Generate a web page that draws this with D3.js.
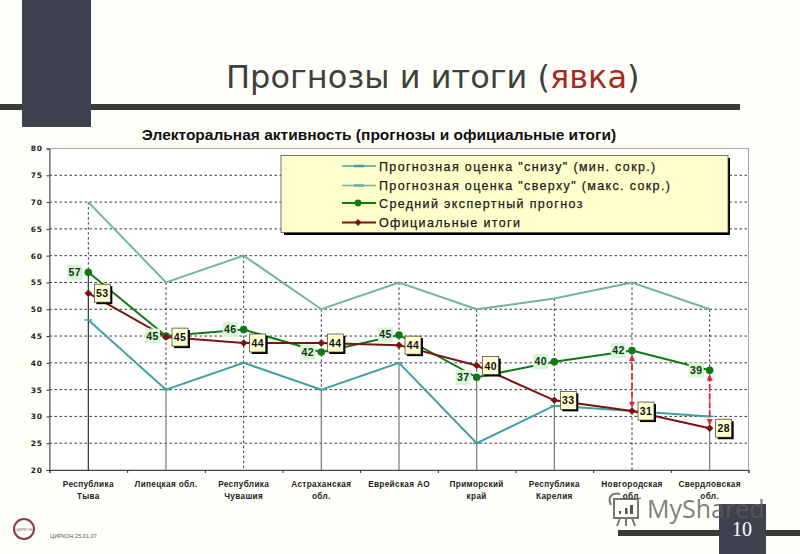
<!DOCTYPE html>
<html><head><meta charset="utf-8">
<script src="https://cdn.jsdelivr.net/npm/d3@7"></script>
<style>html,body{margin:0;padding:0;background:#fffff9;overflow:hidden}svg{display:block}</style>
</head><body><svg id="c" width="800" height="554"></svg>
<script>
const categories=[["Республика","Тыва"],["Липецкая обл."],["Республика","Чувашия"],["Астраханская","обл."],["Еврейская АО"],["Приморский","край"],["Республика","Карелия"],["Новгородская","обл."],["Свердловская","обл."]];
const lowValues=[48,35,40,35,40,25,32,31,30];
const highValues=[70,55,60,50,55,50,52,55,50];
const midValues=[56.9,45,46.2,42,45.2,37.3,40.2,42.3,38.6];
const officialValues=[53,44.8,43.7,43.7,43.3,39.5,33,31,27.8];
const midLabels=["57","45","46","42","45","37","40","42","39"];
const officialLabels=["53","45","44","44","44","40","33","31","28"];
const dropSolidFrom=[56.9,35,20,35,40,37.3,32,20,27.8];
const yTicks=d3.range(20,81,5);
const legendNames=['Прогнозная оценка "снизу" (мин. сокр.)','Прогнозная оценка "сверху" (макс. сокр.)','Средний экспертный прогноз','Официальные итоги'];
const arrowCategories=[7,8];

const svg=d3.select("#c");
const inkDark="#3c3c36";
svg.append("rect").attr("x",0).attr("y",104).attr("width",740).attr("height",6).attr("fill",inkDark);
svg.append("rect").attr("x",22).attr("y",0).attr("width",69).attr("height",127).attr("fill","#3d424e");
svg.append("rect").attr("x",618).attr("y",530).attr("width",182).attr("height",6).attr("fill",inkDark);

const t=svg.append("text").attr("x",226).attr("y",88).attr("font-family","DejaVu Sans").attr("font-size",32).attr("fill","#3f3f3f");
t.append("tspan").text("Прогнозы и итоги (");
t.append("tspan").attr("fill","#a92a1c").text("явка");
t.append("tspan").text(")");
svg.append("text").attr("x",379).attr("y",140).attr("text-anchor","middle").attr("font-family","Liberation Sans").attr("font-weight","bold").attr("font-size",15.5).attr("fill","#111").text("Электоральная активность (прогнозы и официальные итоги)");

const x=d3.scaleBand().domain(d3.range(categories.length)).range([49.5,748.5]);
const y=d3.scaleLinear().domain([20,80]).range([470,148.5]);
const cx=i=>x(i)+x.bandwidth()/2;

svg.append("rect").attr("x",49.5).attr("y",148.5).attr("width",699).attr("height",321.5).attr("fill","#ffffff").attr("stroke","#a8a8a8");
svg.append("g").selectAll("line").data(yTicks.slice(1,-1)).join("line")
 .attr("x1",49.5).attr("x2",748.5).attr("y1",d=>y(d)).attr("y2",d=>y(d))
 .attr("stroke","#222").attr("stroke-width",.9).attr("stroke-dasharray","2.5 2.5");
const drop=svg.append("g");
categories.forEach((c,i)=>{
  drop.append("line").attr("x1",cx(i)).attr("x2",cx(i)).attr("y1",y(highValues[i])).attr("y2",y(dropSolidFrom[i]))
    .attr("stroke","#222").attr("stroke-width",.9).attr("stroke-dasharray","2.5 2.5");
  drop.append("line").attr("x1",cx(i)).attr("x2",cx(i)).attr("y1",y(dropSolidFrom[i])).attr("y2",y(20))
    .attr("stroke",i===0?"#333":"#777").attr("stroke-width",1.2);
});
const yAxis=d3.axisLeft(y).tickValues(yTicks).tickSize(3).tickPadding(4);
const yg=svg.append("g").attr("transform","translate(49.5,0)").call(yAxis);
yg.select(".domain").attr("stroke","#555");
yg.selectAll("line").attr("stroke","#333");
yg.selectAll("text").attr("font-family","DejaVu Sans").attr("font-weight","bold").attr("font-size",7.5).attr("letter-spacing",.6).attr("fill","#222");
const xAxis=d3.axisBottom(d3.scaleLinear().domain([0,9]).range([49.5,748.5])).ticks(9).tickSize(3).tickFormat("");
const xg=svg.append("g").attr("transform","translate(0,470)").call(xAxis);
xg.select(".domain").attr("stroke","#444");
xg.selectAll("line").attr("stroke","#333");
const catG=svg.append("g").attr("font-family","Liberation Sans").attr("font-weight","bold").attr("font-size",8.2).attr("letter-spacing",.35).attr("fill","#222").attr("text-anchor","middle");
categories.forEach((c,i)=>c.forEach((s,j)=>catG.append("text").attr("x",cx(i)).attr("y",487+j*12).text(s)));

const line=d3.line().x((d,i)=>cx(i)).y(d=>y(d));
const colors={low:"#43a0a0",high:"#72b3a4",mid:"#0f7a14",off:"#7d1212"};
svg.append("path").datum(highValues).attr("d",line).attr("fill","none").attr("stroke",colors.high).attr("stroke-width",2);
svg.append("path").datum(lowValues).attr("d",line).attr("fill","none").attr("stroke",colors.low).attr("stroke-width",2);
svg.append("g").selectAll("line").data(lowValues).join("line")
 .attr("x1",(d,i)=>cx(i)-4).attr("x2",(d,i)=>cx(i)+4).attr("y1",d=>y(d)).attr("y2",d=>y(d)).attr("stroke",colors.low).attr("stroke-width",1.4);
svg.append("path").datum(midValues).attr("d",line).attr("fill","none").attr("stroke",colors.mid).attr("stroke-width",2);
svg.append("path").datum(officialValues).attr("d",line).attr("fill","none").attr("stroke",colors.off).attr("stroke-width",2);

const defs=svg.append("defs");
defs.append("marker").attr("id","ah").attr("viewBox","0 0 8 8").attr("refX",7).attr("refY",4).attr("markerWidth",3.5).attr("markerHeight",3.5).attr("orient","auto-start-reverse")
 .append("path").attr("d","M0 0L8 4L0 8Z").attr("fill","#e8223a");
svg.append("g").selectAll("line").data(arrowCategories).join("line")
 .attr("x1",i=>cx(i)).attr("x2",i=>cx(i)).attr("y1",i=>y(midValues[i])+5).attr("y2",i=>y(officialValues[i])-4)
 .attr("stroke","#e8223a").attr("stroke-width",1.8).attr("stroke-dasharray","6 3")
 .attr("marker-start","url(#ah)").attr("marker-end","url(#ah)");

const mg=svg.append("g");
midValues.forEach((v,i)=>{
  const lx=cx(i)-13.5,ly=y(v);
  mg.append("rect").attr("x",lx-7.5).attr("y",ly-7.5).attr("width",15).attr("height",15).attr("fill","#d6f6d6");
  mg.append("text").attr("x",lx).attr("y",ly+3.5).attr("text-anchor","middle").attr("font-family","Liberation Sans").attr("font-weight","bold").attr("font-size",10.5).attr("letter-spacing",.4).attr("fill","#143014").text(midLabels[i]);
  mg.append("circle").attr("cx",cx(i)).attr("cy",ly).attr("r",3.8).attr("fill",colors.mid);
});
const og=svg.append("g");
officialValues.forEach((v,i)=>{
  const px=cx(i),py=y(v);
  og.append("path").attr("d",d3.symbol(d3.symbolDiamond2,36)()).attr("transform",`translate(${px},${py})`).attr("fill",colors.off);
  const bx=px+6,by=py-9;
  og.append("rect").attr("x",bx+2).attr("y",by+2).attr("width",16).attr("height",18).attr("fill","#000");
  og.append("rect").attr("x",bx).attr("y",by).attr("width",16).attr("height",18).attr("fill","#ffffcf").attr("stroke","#333").attr("stroke-width",.7);
  og.append("text").attr("x",bx+8).attr("y",by+13).attr("text-anchor","middle").attr("font-family","Liberation Sans").attr("font-weight","bold").attr("font-size",10.5).attr("letter-spacing",.4).attr("fill","#111").text(officialLabels[i]);
});

const lg=svg.append("g");
lg.append("rect").attr("x",284).attr("y",158).attr("width",446).attr("height",77).attr("fill","#000");
lg.append("rect").attr("x",281).attr("y",155.5).attr("width",447).attr("height",77).attr("fill","#ffffcc").attr("stroke","#555").attr("stroke-width",.8);
const legendY=[166,185.5,203,222.5];
const legendColors=[colors.low,colors.high,colors.mid,colors.off];
legendNames.forEach((n,i)=>{
  lg.append("line").attr("x1",342).attr("x2",376).attr("y1",legendY[i]).attr("y2",legendY[i]).attr("stroke",legendColors[i]).attr("stroke-width",i<2?1.5:2);
  if(i===0||i===1) lg.append("line").attr("x1",354).attr("x2",364).attr("y1",legendY[i]).attr("y2",legendY[i]).attr("stroke",legendColors[i]).attr("stroke-width",2.6);
  if(i===2) lg.append("circle").attr("cx",358).attr("cy",legendY[i]).attr("r",3.4).attr("fill",colors.mid);
  if(i===3) lg.append("path").attr("d",d3.symbol(d3.symbolDiamond2,30)()).attr("transform",`translate(358,${legendY[i]})`).attr("fill",colors.off);
  lg.append("text").attr("x",379).attr("y",legendY[i]+4.5).attr("font-family","Liberation Sans").attr("font-size",12.5).attr("letter-spacing",1.35).attr("fill","#1a1a1a").attr("stroke","#1a1a1a").attr("stroke-width",.25).text(n);
});

svg.append("circle").attr("cx",24).attr("cy",529).attr("r",10).attr("fill","none").attr("stroke","#8a3a48").attr("stroke-width",2);
svg.append("text").attr("x",24).attr("y",531).attr("text-anchor","middle").attr("font-family","Liberation Sans").attr("font-size",4).attr("fill","#8a5a60").text("ЦИРКОН");
svg.append("text").attr("x",50).attr("y",537.5).attr("font-family","Liberation Sans").attr("font-size",5.6).attr("fill","#556").text("ЦИРКОН 25.01.07");

const wm=svg.append("g").attr("fill","none").attr("stroke","#555").attr("stroke-width",2).attr("opacity",.8);
wm.append("rect").attr("x",614).attr("y",499).attr("width",24).attr("height",19);
wm.append("path").attr("d","M620 518L617 526M632 518L635 526M626 518V526M611 505C607 497 612 492 620 494");
const wb=svg.append("g").attr("fill","#555");
[[619,511,2,3],[625,508,2.5,6],[630,505,3,9]].forEach(r=>wb.append("rect").attr("x",r[0]).attr("y",r[1]).attr("width",r[2]).attr("height",r[3]));
svg.append("rect").attr("x",719).attr("y",504).attr("width",47).attr("height",50).attr("fill","#3d424e");
svg.append("text").attr("x",647).attr("y",518).attr("font-family","Open Sans").attr("font-size",25).attr("fill","#5c5c5c").attr("fill-opacity",.8).text("MyShared");
svg.append("text").attr("x",742).attr("y",536).attr("text-anchor","middle").attr("font-family","Liberation Serif").attr("font-size",20).attr("fill","#fff").text("10");
</script></body></html>
